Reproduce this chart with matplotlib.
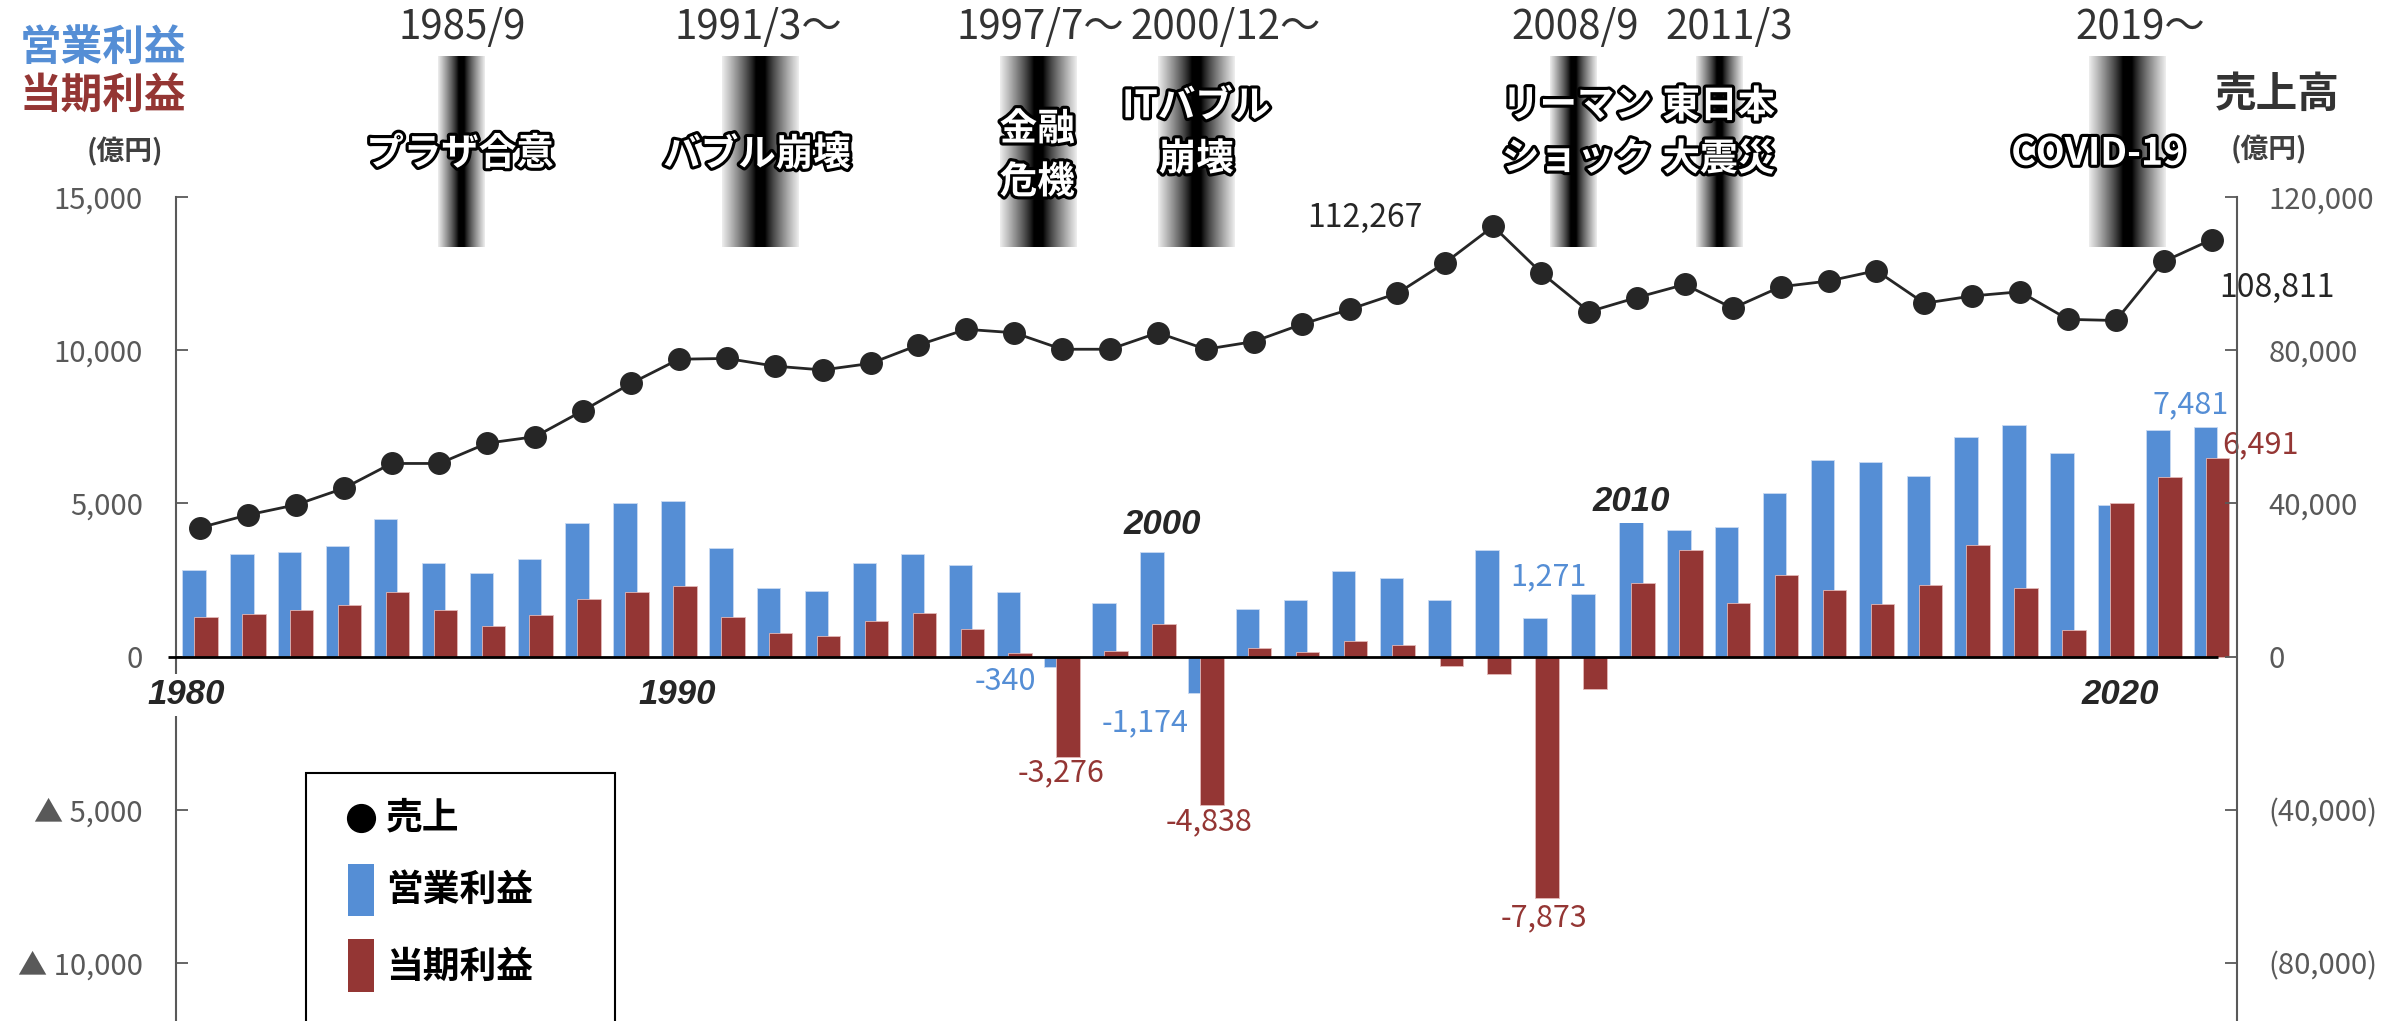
import numpy as np
import matplotlib
matplotlib.use("Agg")
import matplotlib.pyplot as plt
import matplotlib.patheffects as pe
from matplotlib.patches import Rectangle
from matplotlib.lines import Line2D

plt.rcParams['font.family'] = ['Noto Sans CJK JP', 'DejaVu Sans']

# ---------------------------------------------------------------- data (億円)
years = np.arange(1980, 2023)

sales = [33650, 36970, 39600, 43900, 50400, 50400, 55700, 57400, 64200, 71300,
         77600, 77800, 75800, 74800, 76500, 81300, 85400, 84500, 80200, 80200,
         84500, 80200, 82200, 86700, 90600, 94800, 102800, 112267, 100200, 90000,
         93700, 97100, 90900, 96500, 98000, 100700, 92200, 94100, 95200, 88000,
         87700, 103100, 108811]

operating_profit = [2830, 3350, 3410, 3610, 4480, 3070, 2720, 3200, 4350, 5020,
                    5080, 3530, 2230, 2140, 3050, 3340, 2980, 2100, -340, 1750,
                    3420, -1174, 1540, 1850, 2790, 2570, 1840, 3470, 1271, 2030,
                    4460, 4130, 4230, 5330, 6410, 6360, 5880, 7150, 7550, 6630,
                    4960, 7390, 7481]

net_profit = [1290, 1380, 1510, 1670, 2110, 1510, 1000, 1370, 1870, 2110,
              2315, 1280, 770, 660, 1150, 1435, 900, 130, -3276, 170,
              1050, -4838, 280, 160, 520, 380, -300, -560, -7873, -1040,
              2390, 3480, 1760, 2650, 2180, 1730, 2330, 3630, 2230, 880,
              5010, 5850, 6491]

left_ticks = [15000, 10000, 5000, 0, -5000, -10000]
left_tick_labels = ['15,000', '10,000', '5,000', '0', '▲ 5,000', '▲ 10,000']
right_ticks = [120000, 80000, 40000, 0, -40000, -80000]
right_tick_labels = ['120,000', '80,000', '40,000', '0', '(40,000)', '(80,000)']

# economic events: date caption, name, band centre / width (fiscal-year axis)
event_dates = ['1985/9', '1991/3～', '1997/7～', '2000/12～', '2008/9', '2011/3', '2019～']
event_date_x = [1985.47, 1991.65, 1997.54, 2001.42, 2008.71, 2011.92, 2020.50]
event_names = ['プラザ合意', 'バブル崩壊', '金融\n危機', 'ITバブル\n崩壊',
               'リーマン\nショック', '東日本\n大震災', 'COVID-19']
event_name_x = [1985.43, 1991.63, 1997.48, 2000.80, 2008.75, 2011.71, 2019.63]
event_name_y = [0.49, 0.485, 0.48, 0.60, 0.605, 0.60, 0.49]
event_x = [1985.45, 1991.69, 1997.50, 2000.81, 2008.67, 2011.73, 2020.23]
event_w = [0.98, 1.6, 1.6, 1.6, 0.98, 0.98, 1.6]

BLUE = '#558ED5'
RED = '#943634'
GRAY = '#595959'
DARK = '#262626'

W, H = 2407, 1021
fig = plt.figure(figsize=(W / 100, H / 100), dpi=100)


def fx(px):
    return px / W


def fy(py):
    return 1 - py / H


# ---------------------------------------------------------------- main axes
ax = fig.add_axes([fx(176), 0, fx(2236.6) - fx(176), fy(196.7)])
ax.set_xlim(1979.5, 2022.52)
ax.set_ylim(-11883, 15000)

bw = 0.49
ax.bar(years - 0.125, operating_profit, width=bw, color=BLUE,
       edgecolor='#c9daf2', linewidth=0.6, zorder=2)
ax.bar(years + 0.125, net_profit, width=bw, color=RED,
       edgecolor='#e3b8b7', linewidth=0.6, zorder=3)

# zero baseline
ax.plot([years[0] - 0.67, years[-1] + 0.13], [0, 0], color='black', lw=2.0,
        solid_capstyle='butt', clip_on=False, zorder=4)

for side in ['top', 'bottom', 'right']:
    ax.spines[side].set_visible(False)
ax.spines['left'].set_color(GRAY)
ax.spines['left'].set_linewidth(1.5)
ax.set_xticks([])
ax.set_yticks(left_ticks)
ax.set_yticklabels(left_tick_labels)
ax.tick_params(axis='y', direction='in', length=8.5, width=1.3, colors=GRAY,
               labelsize=21, pad=24)

# year captions
year_caps = [(1980, 1979.72, -1249), (1990, 1989.97, -1249), (2000, 2000.09, 4294),
             (2010, 2009.88, 5044), (2020, 2020.10, -1249)]
for yr, xpos, ypos in year_caps:
    ax.text(xpos, ypos, str(yr), ha='center', va='center', fontsize=25,
            family=['Liberation Sans', 'DejaVu Sans'], style='italic',
            fontweight='bold', color=DARK, zorder=6, clip_on=False,
            bbox=dict(facecolor='white', edgecolor='none', pad=3))

# value labels on bars
op_map = dict(zip(years, operating_profit))
net_map = dict(zip(years, net_profit))
bar_labels = [
    ('op', 1998, -36.7, -10.5),
    ('op', 2001, -39.4, -22.0),
    ('op', 2008, 9.7, 29.5),
    ('op', 2022, -10.7, 16.0),
    ('net', 1998, -4.8, -11.6),
    ('net', 2001, -2.0, -12.0),
    ('net', 2008, -2.2, -14.5),
    ('net', 2022, 31.0, 9.0),
]
for series, yr, dx, dy in bar_labels:
    if series == 'op':
        v, xb, c = op_map[yr], yr - 0.125, BLUE
    else:
        v, xb, c = net_map[yr], yr + 0.125, RED
    ax.annotate(f"{v:,}", xy=(xb, v), xytext=(dx, dy), textcoords='offset points',
                ha='center', va='center', fontsize=22, color=c, zorder=7,
                annotation_clip=False)

# ---------------------------------------------------------------- sales axis
ax2 = ax.twinx()
ax2.set_ylim(-95064, 120000)
for side in ['top', 'bottom', 'left']:
    ax2.spines[side].set_visible(False)
ax2.spines['right'].set_color(GRAY)
ax2.spines['right'].set_linewidth(1.5)
ax2.set_yticks(right_ticks)
ax2.set_yticklabels(right_tick_labels)
ax2.tick_params(axis='y', direction='in', length=8.5, width=1.3, colors=GRAY,
                labelsize=21, pad=23)

ax2.plot(years, sales, color=DARK, lw=2.0, marker='o', markersize=15.5,
         markerfacecolor=DARK, markeredgecolor=DARK, zorder=5)

sales_map = dict(zip(years, sales))
for yr, dx, dy in [(2007, -92.2, 5.8), (2022, 46.8, -35.0)]:
    ax2.annotate(f"{sales_map[yr]:,}", xy=(yr, sales_map[yr]), xytext=(dx, dy),
                 textcoords='offset points', ha='center', va='center',
                 fontsize=23, color=DARK, annotation_clip=False)

# ---------------------------------------------------------------- event bands
band_ax = fig.add_axes([fx(176), fy(247), fx(2236.6) - fx(176), (247 - 55.7) / H])
t = np.linspace(-1, 1, 161)
profile = np.clip((np.abs(t) - 0.12) / 0.88, 0, 1) ** 0.85 * 0.93
for xc, w in zip(event_x, event_w):
    band_ax.imshow(profile[None, :], extent=[xc - w / 2, xc + w / 2, 0, 1],
                   cmap='gray', vmin=0, vmax=1, aspect='auto',
                   interpolation='bilinear')
band_ax.set_xlim(ax.get_xlim())
band_ax.set_ylim(0, 1)
band_ax.axis('off')

for label, xd in zip(event_dates, event_date_x):
    band_ax.text(xd, 1.145, label, ha='center', va='center', fontsize=29,
                 color='#333333', clip_on=False)

outline = [pe.withStroke(linewidth=4.5, foreground='black')]
pitch = 0.277
for name, xn, yn in zip(event_names, event_name_x, event_name_y):
    lines = name.split('\n')
    n = len(lines)
    for i, ln in enumerate(lines):
        yy = yn + (n - 1) / 2 * pitch - i * pitch
        band_ax.text(xn, yy, ln, ha='center', va='center', fontsize=27,
                     fontweight='bold', color='white', path_effects=outline,
                     clip_on=False)

# ---------------------------------------------------------------- titles & legend
deco = fig.add_axes([0, 0, 1, 1], zorder=10)
deco.set_xlim(0, W)
deco.set_ylim(H, 0)
deco.axis('off')

deco.text(103, 48, '営業利益', ha='center', va='center', fontsize=30,
          fontweight='bold', color=BLUE)
deco.text(103, 96, '当期利益', ha='center', va='center', fontsize=30,
          fontweight='bold', color=RED)
deco.text(125, 152, '(億円)', ha='center', va='center', fontsize=20,
          fontweight='bold', color='#404040')
deco.text(2277, 95, '売上高', ha='center', va='center', fontsize=30,
          fontweight='bold', color='#333333')
deco.text(2269, 150, '(億円)', ha='center', va='center', fontsize=20,
          fontweight='bold', color='#404040')

deco.add_patch(Rectangle((306, 773), 309, 320, facecolor='white',
                         edgecolor='black', linewidth=1.5, clip_on=False))
deco.add_line(Line2D([361], [818], marker='o', markersize=20, color='black',
                     linestyle='none'))
deco.add_patch(Rectangle((348, 864), 26, 52, facecolor=BLUE, edgecolor='none'))
deco.add_patch(Rectangle((348, 939), 26, 53, facecolor=RED, edgecolor='none'))
for ypos, label in [(818, '売上'), (890, '営業利益'), (967, '当期利益')]:
    deco.text(386, ypos, label, ha='left', va='center', fontsize=26.5,
              fontweight='bold', color='black')

fig.savefig('out.png', dpi=100)
